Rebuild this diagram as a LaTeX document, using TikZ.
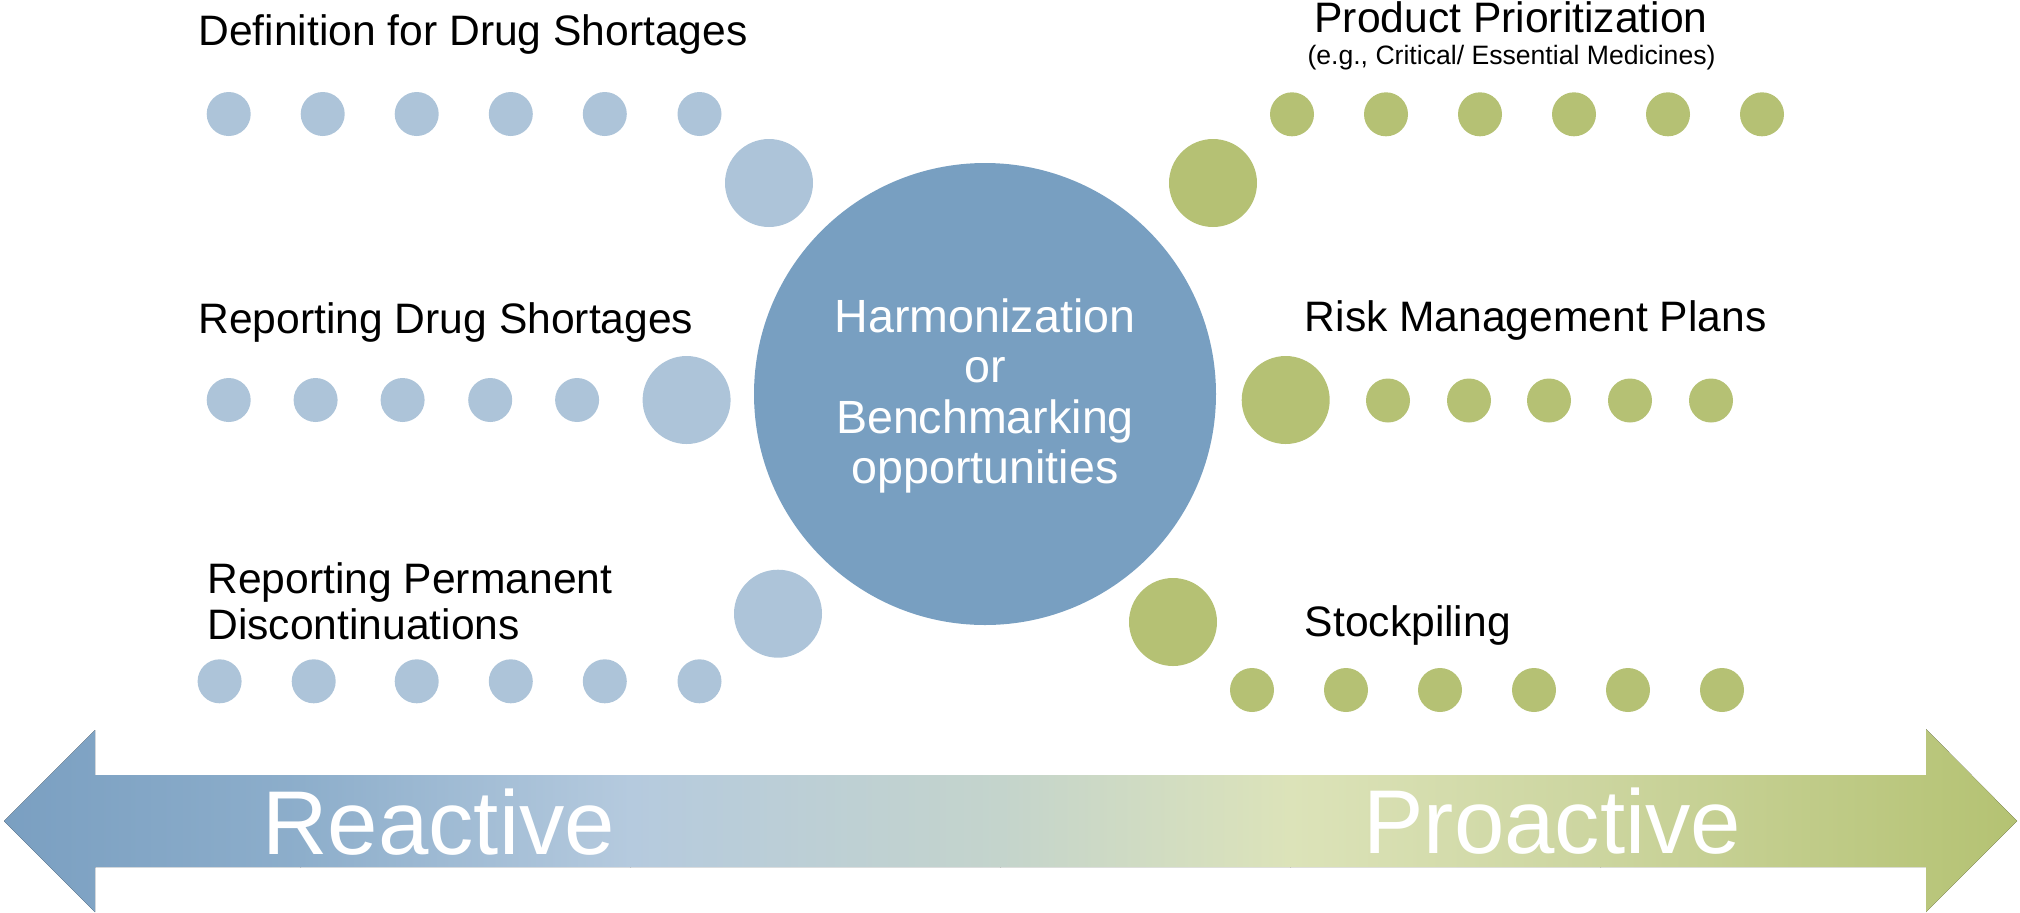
\documentclass[tikz,border=0pt]{standalone}
\usepackage{fontspec}
\setmainfont{Liberation Sans}
\definecolor{cblue}{HTML}{789FC1}
\definecolor{lblue}{HTML}{ADC4D9}
\definecolor{cgreen}{HTML}{B5C174}
\definecolor{gA}{HTML}{7A9FC1}
\definecolor{gB}{HTML}{8DAECB}
\definecolor{gC}{HTML}{B5CADE}
\definecolor{gD}{HTML}{C4D4CC}
\definecolor{gE}{HTML}{DCE3B9}
\definecolor{gF}{HTML}{CCD59F}
\definecolor{gG}{HTML}{B4C272}
\tikzset{
  sdot/.style={circle, inner sep=0pt, draw=none, minimum size=22pt},
  bdot/.style={circle, inner sep=0pt, draw=none, minimum size=44pt},
  lbl/.style={inner sep=0pt, anchor=base west, font=\fontsize{21.3}{22.8}\selectfont, text=black},
  big/.style={inner sep=0pt, text=white, font=\fontsize{45.3}{50}\selectfont},
}
\begin{document}
\begin{tikzpicture}[x=0.5pt, y=-0.5pt]
\useasboundingbox (0,0) rectangle (2020,912);
% central circle
\node[circle, inner sep=0pt, fill=cblue, minimum size=231pt] (hub) at (985,394) {};
\node[inner sep=0pt, anchor=north, align=center, text=white, font=\fontsize{23.3}{25.25}\selectfont] (hubtext) at (985,298) {Harmonization\\or\\Benchmarking\\opportunities};
% left row 1
\foreach \x [count=\i] in {228.7,322.7,416.7,510.8,604.8,699.5}
  \node[sdot, fill=lblue] (la\i) at (\x,114) {};
\node[bdot, fill=lblue] (labig) at (769,183) {};
% left row 2
\foreach \x [count=\i] in {228.7,315.6,402.6,490.2,577.1}
  \node[sdot, fill=lblue] (lb\i) at (\x,400) {};
\node[bdot, fill=lblue] (lbbig) at (686.6,400) {};
% left row 3
\foreach \x [count=\i] in {219.6,313.7,416.7,510.8,604.8,699.5}
  \node[sdot, fill=lblue] (lc\i) at (\x,681.3) {};
\node[bdot, fill=lblue] (lcbig) at (778,613.7) {};
% right row 1
\node[bdot, fill=cgreen] (rabig) at (1213,183) {};
\foreach \x [count=\i] in {1292,1386,1480,1574,1668,1762}
  \node[sdot, fill=cgreen] (ra\i) at (\x,114.3) {};
% right row 2
\node[bdot, fill=cgreen] (rbbig) at (1285.7,400) {};
\foreach \x [count=\i] in {1388,1469,1549,1630,1711}
  \node[sdot, fill=cgreen] (rb\i) at (\x,400.5) {};
% right row 3
\node[bdot, fill=cgreen] (rcbig) at (1173,622) {};
\foreach \x [count=\i] in {1252,1346,1440,1534,1628,1722}
  \node[sdot, fill=cgreen] (rc\i) at (\x,690) {};
% labels
\node[lbl] (t1) at (198,45) {Definition for Drug Shortages};
\node[lbl] (t2) at (198,333) {Reporting Drug Shortages};
\node[lbl, anchor=north west, align=left] (t3) at (207,562.5) {Reporting Permanent\\Discontinuations};
\node[lbl, anchor=base] (t4) at (1511,32) {Product Prioritization};
\node[inner sep=0pt, anchor=base, font=\fontsize{13.3}{15}\selectfont] (t4s) at (1511.5,64) {(e.g., Critical/ Essential Medicines)};
\node[lbl] (t5) at (1304.4,331) {Risk Management Plans};
\node[lbl] (t6) at (1304.4,636) {Stockpiling};
% double arrow with gradient
\begin{scope}
  \clip (4,821) -- (95,730) -- (95,775) -- (1926,775) -- (1926,729) -- (2017,821)
        -- (1926,912) -- (1926,867) -- (95,867) -- (95,912) -- cycle;
  \fill[left color=gA, right color=gB] (0,725) rectangle (301,915);
  \fill[left color=gB, right color=gC] (300,725) rectangle (631,915);
  \fill[left color=gC, right color=gD] (630,725) rectangle (1001,915);
  \fill[left color=gD, right color=gE] (1000,725) rectangle (1291,915);
  \fill[left color=gE, right color=gF] (1290,725) rectangle (1601,915);
  \fill[left color=gF, right color=gG] (1600,725) rectangle (2020,915);
\end{scope}
\node[big, anchor=base west] (reactive) at (262,854) {Reactive};
\node[big, anchor=base west] (proactive) at (1363,853) {Proactive};
\end{tikzpicture}
\end{document}
